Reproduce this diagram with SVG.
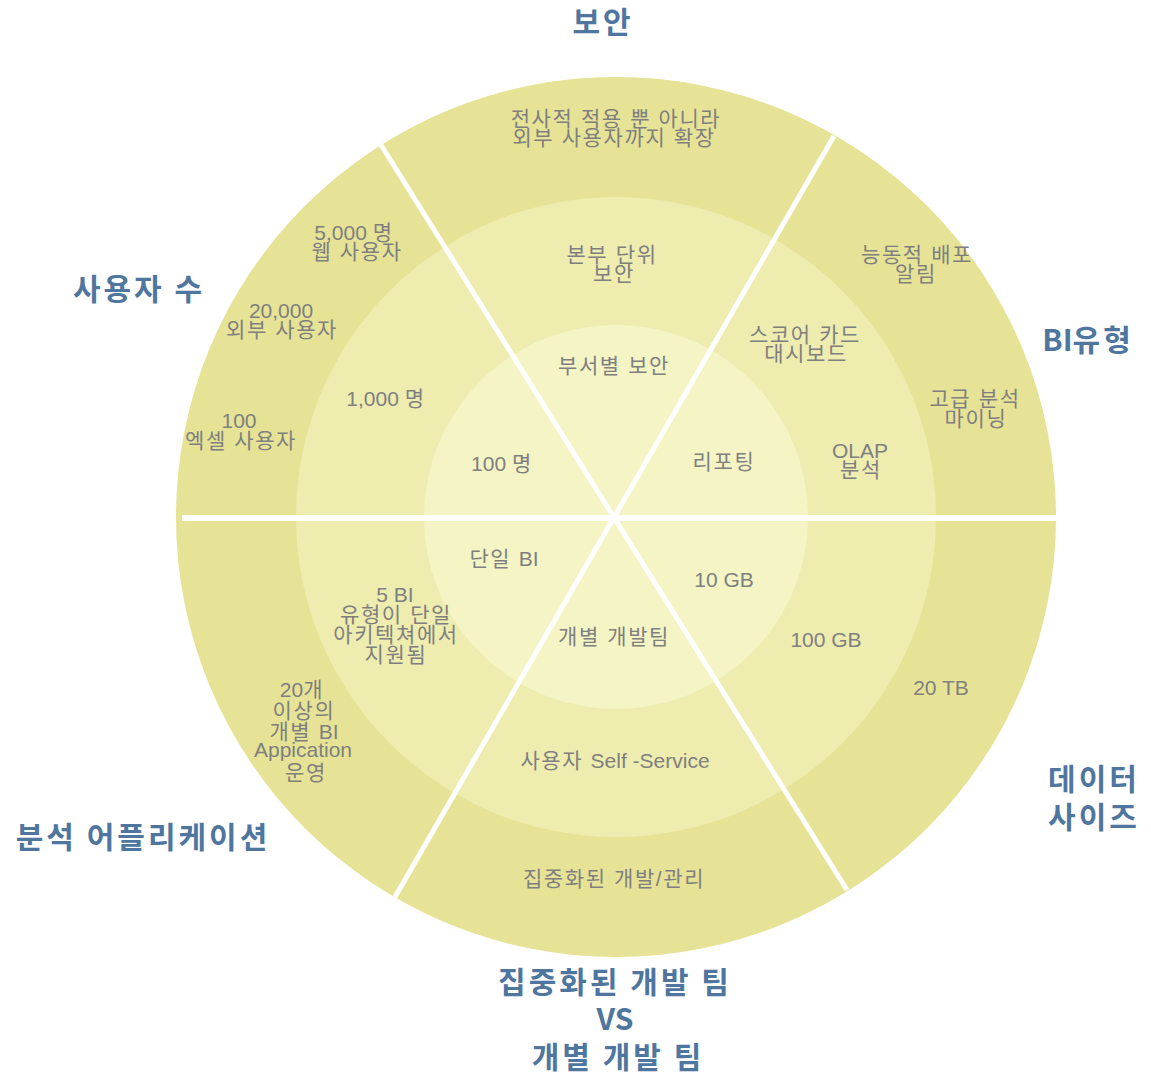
<svg xmlns="http://www.w3.org/2000/svg" width="1151" height="1075" viewBox="0 0 1151 1075">
<style>
.lbl{font-family:"Liberation Sans","Noto Sans CJK KR",sans-serif;font-size:21px;fill:#7f7f7f;text-anchor:middle;letter-spacing:1.6px}
.cat{font-family:"Noto Sans CJK KR","Liberation Sans",sans-serif;font-size:30px;font-weight:bold;fill:#4f769e;text-anchor:middle;letter-spacing:3px}
.lat{letter-spacing:0}
.div{stroke:#ffffff;fill:none}
</style>
<rect width="1151" height="1075" fill="#ffffff"/>
<g id="rings">
<circle cx="616" cy="517" r="440" fill="#e6e396"/>
<circle cx="616" cy="517" r="320" fill="#eeecaf"/>
<circle cx="616" cy="517" r="192" fill="#f4f4c5"/>
</g>
<g id="connectors">
<line class="div" x1="182" y1="518" x2="1056" y2="518" stroke-width="6"/>
<line class="div" x1="381" y1="145" x2="847" y2="890" stroke-width="5"/>
<line class="div" x1="834" y1="136" x2="395" y2="897" stroke-width="5"/>
</g>
<g id="users">
<text class="cat" x="139" y="300">사용자 수</text>
<text class="lbl" x="354" y="240"><tspan class="lat">5,000 </tspan>명</text>
<text class="lbl" x="357" y="259">웹 사용자</text>
<text class="lbl lat" x="281" y="318">20,000</text>
<text class="lbl" x="282" y="337">외부 사용자</text>
<text class="lbl" x="386" y="406"><tspan class="lat">1,000 </tspan>명</text>
<text class="lbl lat" x="239" y="428">100</text>
<text class="lbl" x="241" y="448">엑셀 사용자</text>
<text class="lbl" x="502" y="471"><tspan class="lat">100 </tspan>명</text>
</g>
<g id="security">
<text class="cat" x="603" y="33">보안</text>
<text class="lbl" x="616" y="126">전사적 적용 뿐 아니라</text>
<text class="lbl" x="614" y="145">외부 사용자까지 확장</text>
<text class="lbl" x="612" y="262">본부 단위</text>
<text class="lbl" x="614" y="281">보안</text>
<text class="lbl" x="614" y="373">부서별 보안</text>
</g>
<g id="bi-type">
<text class="cat" x="1088" y="351"><tspan class="lat">BI</tspan>유형</text>
<text class="lbl" x="917" y="262">능동적 배포</text>
<text class="lbl" x="916" y="281">알림</text>
<text class="lbl" x="805" y="342">스코어 카드</text>
<text class="lbl" x="806" y="361">대시보드</text>
<text class="lbl" x="975" y="406">고급 분석</text>
<text class="lbl" x="976" y="426">마이닝</text>
<text class="lbl lat" x="860" y="458">OLAP</text>
<text class="lbl" x="861" y="477">분석</text>
<text class="lbl" x="724" y="469">리포팅</text>
</g>
<g id="data-size">
<text class="cat" x="1094" y="790">데이터</text>
<text class="cat" x="1094" y="828">사이즈</text>
<text class="lbl lat" x="724" y="587">10 GB</text>
<text class="lbl lat" x="826" y="647">100 GB</text>
<text class="lbl lat" x="941" y="695">20 TB</text>
</g>
<g id="dev-team">
<text class="cat" x="615" y="993">집중화된 개발 팀</text>
<text class="cat lat" x="615" y="1030">VS</text>
<text class="cat" x="618" y="1068">개별 개발 팀</text>
<text class="lbl" x="614" y="644">개별 개발팀</text>
<text class="lbl" x="615" y="768">사용자 <tspan class="lat">Self -Service</tspan></text>
<text class="lbl" x="614" y="886">집중화된 개발/관리</text>
</g>
<g id="analytics-apps">
<text class="cat" x="143" y="848">분석 어플리케이션</text>
<text class="lbl" x="504" y="566">단일 <tspan class="lat">BI</tspan></text>
<text class="lbl lat" x="395" y="602">5 BI</text>
<text class="lbl" x="396" y="622">유형이 단일</text>
<text class="lbl" x="396" y="642">아키텍쳐에서</text>
<text class="lbl" x="396" y="662">지원됨</text>
<text class="lbl" x="302" y="697"><tspan class="lat">20</tspan>개</text>
<text class="lbl" x="304" y="718">이상의</text>
<text class="lbl" x="304" y="739">개별 <tspan class="lat">BI</tspan></text>
<text class="lbl lat" x="303" y="757">Appication</text>
<text class="lbl" x="306" y="780">운영</text>
</g>
</svg>
